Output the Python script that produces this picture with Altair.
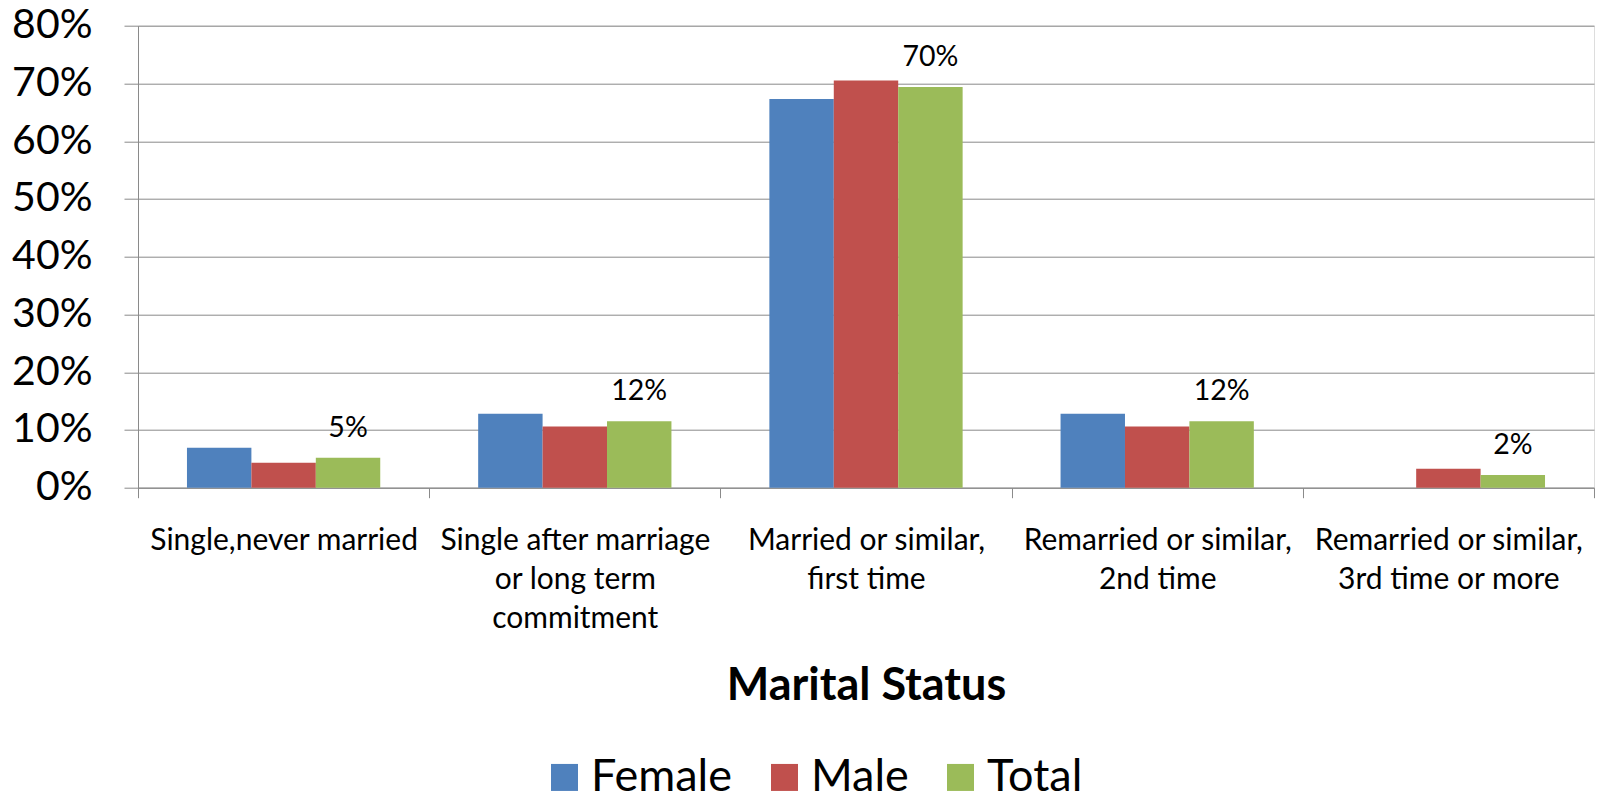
import altair as alt
import pandas as pd
import json

categories = [
    "Single,never married",
    "Single after marriage or long term commitment",
    "Married or similar, first time",
    "Remarried or similar, 2nd time",
    "Remarried or similar, 3rd time or more",
]
label_lines = [
    ["Single,never married"],
    ["Single after marriage", "or long term", "commitment"],
    ["Married or similar,", "first time"],
    ["Remarried or similar,", "2nd time"],
    ["Remarried or similar,", "3rd time or more"],
]
series = ["Female", "Male", "Total"]
female = [6.9, 12.8, 67.3, 12.8, 0.0]
male = [4.3, 10.6, 70.5, 10.6, 3.3]
total = [5.2, 11.5, 69.4, 11.5, 2.2]
total_labels = ["5%", "12%", "70%", "12%", "2%"]
colors = ["#4F81BD", "#C0504D", "#9BBB59"]

rows = []
for s, vals in zip(series, [female, male, total]):
    for c, v in zip(categories, vals):
        rows.append({"cat": c, "series": s, "value": v / 100})
df = pd.DataFrame(rows)
df_lab = pd.DataFrame({"cat": categories, "series": ["Total"] * 5,
                       "value": [v / 100 for v in total], "label": total_labels})

mapping = "{" + ",".join(json.dumps(c) + ":" + json.dumps(l) for c, l in zip(categories, label_lines)) + "}"
label_expr = mapping + "[datum.label]"

FONT = "Lato"
GRAY = "#8a8a8a"

x_enc = alt.X("cat:N", sort=categories,
              scale=alt.Scale(paddingInner=0, paddingOuter=0),
              axis=alt.Axis(title="Marital Status", labelAngle=0, labelExpr=label_expr,
                            labelFont=FONT, labelFontSize=30, labelLineHeight=39,
                            labelColor="black", labelPadding=28, labelLimit=400,
                            tickBand="extent", tickSize=10, tickColor=GRAY,
                            domainColor=GRAY, grid=False,
                            titleFont=FONT, titleFontSize=45, titleFontWeight="bold",
                            titleColor="black", titleY=212, titleBaseline="alphabetic"))
xoff = alt.XOffset("series:N", sort=series,
                   scale=alt.Scale(domain=series, paddingInner=0, paddingOuter=0.76))
y_enc = alt.Y("value:Q", scale=alt.Scale(domain=[0, 0.8], nice=False),
              axis=alt.Axis(title=None, format=".0%", values=[i / 10 for i in range(9)],
                            labelFont=FONT, labelFontSize=41, labelColor="black",
                            labelPadding=32, tickSize=14, tickColor=GRAY,
                            domainColor=GRAY, gridColor=GRAY, gridWidth=1))

bars = alt.Chart(df).mark_bar().encode(
    x=x_enc, xOffset=xoff, y=y_enc,
    color=alt.Color("series:N", sort=series,
                    scale=alt.Scale(domain=series, range=colors),
                    legend=alt.Legend(title=None, orient="none", direction="horizontal",
                                      legendX=404, legendY=729,
                                      symbolType="square", symbolSize=729,
                                      symbolStrokeWidth=0, labelFont=FONT,
                                      labelFontSize=45, labelColor="black",
                                      labelOffset=4, columnPadding=29)),
)

texts = alt.Chart(df_lab).mark_text(font=FONT, fontSize=28.5, color="black",
                                    baseline="alphabetic", dy=-21).encode(
    x=alt.X("cat:N", sort=categories), xOffset=alt.XOffset("series:N", sort=series),
    y="value:Q", text="label:N")

chart = alt.layer(bars, texts).properties(
    width=1456, height=462,
    autosize=alt.AutoSizeParams(type="none"),
    padding={"left": 130, "top": 17.7, "right": 2, "bottom": 306},
).configure_view(stroke=None).configure(background="white")

chart.save("out.html", embed_options={"renderer": "svg", "actions": False})
